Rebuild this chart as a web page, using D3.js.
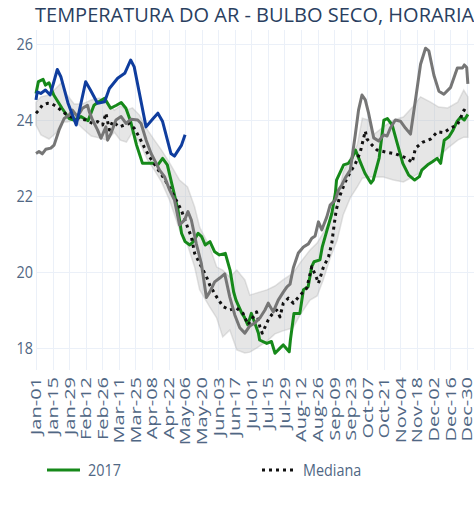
<!DOCTYPE html>
<meta charset="utf-8">
<style>
body { margin: 0; background: #fff; }
svg { display: block; font-family: "Open Sans", sans-serif; }
.grid line { stroke: #ebf0f8; stroke-width: 1; shape-rendering: crispEdges; }
.tick-label { fill: #506784; }
.line { fill: none; stroke-width: 3px; stroke-linejoin: round; }
</style>
<body>
<script src="https://d3js.org/d3.v7.min.js"></script>
<script>

// day of year (0 = Jan-01), temperature in C
var anoAtual = [[0,24.53],[1,24.74],[4,24.70],[8,24.79],[12,24.66],[18,25.33],[21,25.14],[27,24.45],[34,23.87],[42,25.01],[46,24.79],[52,24.44],[58,24.48],[62,24.83],[69,25.10],[75,25.23],[80,25.58],[83,25.40],[93,23.82],[99,24.04],[103,24.18],[107,23.96],[114,23.12],[117,23.05],[123,23.34],[126,23.61]];

var ano2017 = [[0,24.70],[2,25.01],[6,25.07],[8,24.92],[11,24.98],[15,24.66],[22,24.31],[28,24.04],[32,24.00],[38,24.09],[44,23.98],[49,24.39],[53,24.48],[58,24.57],[63,24.31],[68,24.39],[72,24.46],[76,24.31],[80,23.96],[85,23.34],[90,22.86],[99,22.86],[103,22.82],[107,22.99],[111,22.82],[116,22.16],[120,21.63],[123,21.02],[126,20.80],[130,20.71],[133,20.80],[137,21.02],[140,20.93],[143,20.71],[147,20.80],[151,20.53],[155,20.45],[160,20.49],[164,20.05],[167,19.48],[169,19.26],[174,18.91],[176,18.82],[179,18.61],[182,18.91],[185,18.65],[188,18.39],[189,18.21],[195,18.12],[199,18.17],[202,17.86],[206,17.99],[209,18.08],[214,17.90],[215,18.21],[218,18.91],[223,18.91],[226,19.53],[230,19.61],[233,20.14],[235,20.27],[240,20.32],[242,20.67],[246,21.11],[250,21.54],[253,22.07],[254,22.42],[260,22.82],[264,22.86],[267,22.99],[270,23.21],[274,22.90],[278,22.60],[283,22.34],[285,22.42],[290,23.00],[294,24.00],[297,24.04],[301,23.87],[305,23.42],[310,22.86],[315,22.55],[320,22.42],[324,22.51],[326,22.68],[331,22.82],[335,22.90],[339,22.99],[342,22.86],[345,23.47],[349,23.56],[352,23.71],[356,23.97],[359,24.08],[362,24.00],[365,24.15]];

var anoOutro = [[0,23.12],[2.5,23.17],[5.3,23.11],[8.2,23.23],[12.5,23.26],[15.3,23.34],[19.5,23.74],[23.8,24.04],[28,24.13],[30.8,24.26],[35,24.09],[39.3,24.31],[43.5,24.39],[45,24.22],[47.8,24.00],[52,23.74],[54.9,23.52],[59.1,23.82],[60.5,23.47],[63.4,23.65],[67.6,24.00],[71.9,24.09],[76.1,23.91],[80.4,24.02],[86,24.00],[88.8,23.91],[93.1,23.47],[97.3,23.12],[101.6,22.86],[104.4,22.68],[108.6,22.51],[112.9,22.16],[117.1,21.89],[121.3,21.24],[125.6,21.37],[128.4,21.59],[131.3,21.37],[135.5,20.74],[139.7,20.23],[144,19.33],[146.8,19.47],[151,19.74],[155.3,19.84],[159.5,19.95],[163.8,19.34],[168,18.87],[172.2,18.53],[176.5,18.39],[180.7,18.58],[185,18.66],[189.2,18.79],[193.5,19.00],[196.3,19.18],[200.5,18.95],[204.7,19.26],[209,19.47],[212.1,19.61],[214.7,19.68],[217.5,20.11],[221.7,20.50],[226,20.66],[230.2,20.74],[233.1,20.89],[235.9,20.95],[238.7,21.32],[241.6,21.11],[245.8,21.45],[248.6,21.76],[252.9,21.89],[255.7,22.16],[258.5,22.29],[261.3,22.47],[265.6,22.68],[269.8,23.60],[272.6,24.26],[275.5,24.66],[278.3,24.53],[281.1,24.18],[285.4,23.53],[289.6,23.45],[293.8,23.61],[296.7,23.58],[299.5,23.79],[303.7,24.00],[308,23.97],[312.2,23.79],[316.5,23.63],[320.7,24.53],[325,25.47],[329.2,25.89],[332,25.82],[336.3,25.18],[340.5,24.76],[344.7,24.68],[350.4,24.86],[356.1,25.37],[360.4,25.37],[362,25.45],[364,25.38],[365,24.95]];

var mediana = [[0,24.18],[2.5,24.26],[5.3,24.39],[9.6,24.44],[13.8,24.42],[18.1,24.34],[21,24.26],[25.2,24.16],[29.7,24.08],[35,24.04],[42.2,24.00],[47.8,23.91],[52,23.96],[56.3,23.87],[59.1,24.18],[62,23.74],[64.7,23.96],[70.4,23.82],[74.7,23.87],[78.9,23.91],[83.1,23.78],[87.4,23.54],[91.6,23.28],[95.9,23.03],[101.6,22.77],[107.2,22.51],[112.9,22.22],[118.5,21.89],[122.8,21.63],[128.4,21.15],[131.3,20.93],[134.1,20.49],[139.7,20.14],[144,19.88],[146.8,19.66],[152.5,19.35],[158.1,19.09],[163.8,19.00],[169.4,19.05],[175,18.91],[179.3,18.61],[186.4,18.95],[189.2,18.56],[191.2,18.39],[196.3,18.74],[199.1,18.87],[203.4,19.00],[206.2,18.82],[209,19.18],[213.2,19.31],[217.5,19.18],[223.2,19.39],[228.8,19.57],[233.1,20.14],[237.3,19.83],[238.7,19.70],[242.7,20.11],[247.2,20.40],[250,20.76],[251.4,21.11],[253.7,21.63],[257.1,22.03],[261.3,22.37],[265.6,22.63],[269.8,22.84],[274.1,23.16],[278.3,23.71],[279.7,23.50],[284,23.34],[288.2,23.21],[295.3,23.16],[303.8,23.11],[313.7,22.99],[317.9,22.88],[320.7,23.26],[326.4,23.41],[333.5,23.50],[339.2,23.69],[344.7,23.67],[350.4,23.79],[356.1,23.87],[361.7,24.26],[365,24.20]];

// [day, lower, upper]
var faixa = [[0,23.87,24.47],[4.2,23.61,24.61],[11,23.50,24.66],[17,23.66,24.84],[22,23.95,25.00],[26.3,23.95,24.66],[32.2,24.00,24.42],[39,23.79,24.42],[46.7,23.58,24.53],[53.5,23.53,24.58],[60.2,23.47,24.47],[66.2,23.68,24.26],[71.3,23.47,24.37],[76.4,23.42,24.26],[81.5,23.68,24.32],[87.4,23.42,24.13],[94.2,22.95,23.74],[100.1,22.68,23.47],[106.1,22.37,23.21],[112.9,21.89,22.87],[121.3,21.11,22.42],[128.1,20.71,22.24],[134.1,20.13,21.71],[138.3,19.53,21.18],[146.8,19.08,20.66],[152.7,18.79,20.13],[157.8,18.29,20.05],[163.8,18.47,19.87],[169.7,17.95,20.05],[176.5,17.87,19.79],[180.7,17.89,19.39],[186.7,18.00,19.45],[195.2,18.18,19.53],[201.9,18.37,19.63],[208.7,18.45,19.79],[217.2,18.53,19.97],[223.2,18.87,20.24],[231.6,19.26,20.58],[237.6,19.37,20.76],[242.7,19.79,21.03],[248.6,20.37,21.37],[254.6,20.84,21.82],[259.6,21.50,22.63],[265.6,21.95,23.00],[271.5,22.24,23.34],[275.8,22.47,24.05],[280.9,22.50,24.00],[285.1,22.50,23.61],[293.6,22.50,23.82],[302.1,22.42,24.00],[310.5,22.37,24.08],[318.2,22.50,24.34],[325,22.63,24.61],[333.5,22.87,24.47],[340.3,23.03,24.34],[347.9,23.26,24.32],[356.4,23.47,24.47],[361.5,23.55,24.79],[365,23.55,24.61]];

var yTicks = [18, 20, 22, 24, 26];
var titulo = "TEMPERATURA DO AR - BULBO SECO, HORARIA";

var width = 474, height = 505;
var plot = {left: 36, right: 474, top: 30, bottom: 370};

var inicio = new Date(2020, 0, 1);
function dia(d) { return d3.timeHour.offset(inicio, Math.round(d * 24)); }

var x = d3.scaleTime()
    .domain([inicio, dia(364)])
    .range([36, 466.7]);

var y = d3.scaleLinear()
    .domain([17.42, 26.37])
    .range([plot.bottom, plot.top]);

var xTicks = d3.timeDay.range(inicio, dia(365), 14);
var fmt = d3.timeFormat("%b-%d");

var svg = d3.select("body").append("svg")
    .attr("width", width)
    .attr("height", height);

// grid
var grid = svg.append("g").attr("class", "grid");
grid.selectAll(".gx").data(xTicks).enter().append("line")
    .attr("x1", function(d) { return Math.round(x(d)) + 0.5; })
    .attr("x2", function(d) { return Math.round(x(d)) + 0.5; })
    .attr("y1", plot.top).attr("y2", plot.bottom);
grid.selectAll(".gy").data(yTicks).enter().append("line")
    .attr("x1", plot.left).attr("x2", plot.right)
    .attr("y1", function(d) { return Math.round(y(d)) + 0.5; })
    .attr("y2", function(d) { return Math.round(y(d)) + 0.5; });

var line = d3.line()
    .x(function(d) { return x(dia(d[0])); })
    .y(function(d) { return y(d[1]); });

// band
svg.append("path")
    .datum(faixa)
    .attr("d", d3.area()
      .x(function(d) { return x(dia(d[0])); })
      .y0(function(d) { return y(d[1]); })
      .y1(function(d) { return y(d[2]); }))
    .attr("fill", "rgba(190,190,190,0.38)")
    .attr("stroke", "rgba(175,175,175,0.35)")
    .attr("stroke-width", 1.5);

svg.append("path").datum(ano2017).attr("class", "line")
    .attr("stroke", "#16891a").attr("d", line);

svg.append("path").datum(mediana).attr("class", "line")
    .attr("stroke", "#111").attr("stroke-dasharray", "3,4").attr("d", line);

svg.append("path").datum(anoOutro).attr("class", "line")
    .attr("stroke", "#767676").attr("d", line);

svg.append("path").datum(anoAtual).attr("class", "line")
    .attr("stroke", "#0f3d9e").attr("d", line);

// y tick labels
svg.selectAll(".yl").data(yTicks).enter().append("text")
    .attr("class", "tick-label")
    .attr("transform", function(d) { return "translate(33," + y(d) + ") scale(0.9,1)"; })
    .attr("dy", "0.36em")
    .attr("text-anchor", "end")
    .style("font-size", "16px")
    .text(function(d) { return d; });

// x tick labels (rotated)
svg.selectAll(".xl").data(xTicks).enter().append("text")
    .attr("class", "tick-label")
    .attr("transform", function(d) { return "translate(" + x(d) + ",377) scale(0.75,1) rotate(-90)"; })
    .attr("dy", "0.36em")
    .attr("text-anchor", "end")
    .style("font-size", "20px")
    .text(function(d) { return fmt(d); });

// title
svg.append("text")
    .attr("transform", "translate(35,22)")
    .attr("fill", "#2a3f5f")
    .style("font-size", "20px")
    .text(titulo);

// legend
var leg = svg.append("g");
leg.append("line").attr("x1", 47).attr("x2", 80).attr("y1", 470).attr("y2", 470)
    .attr("stroke", "#16891a").attr("stroke-width", 3);
leg.append("text").attr("class", "tick-label")
    .attr("transform", "translate(88,476) scale(0.9,1)")
    .style("font-size", "16px").text("2017");
leg.append("line").attr("x1", 262).attr("x2", 295).attr("y1", 470).attr("y2", 470)
    .attr("stroke", "#111").attr("stroke-width", 3).attr("stroke-dasharray", "3,4");
leg.append("text").attr("class", "tick-label")
    .attr("transform", "translate(303,476) scale(0.9,1)")
    .style("font-size", "16px").text("Mediana");

</script>
